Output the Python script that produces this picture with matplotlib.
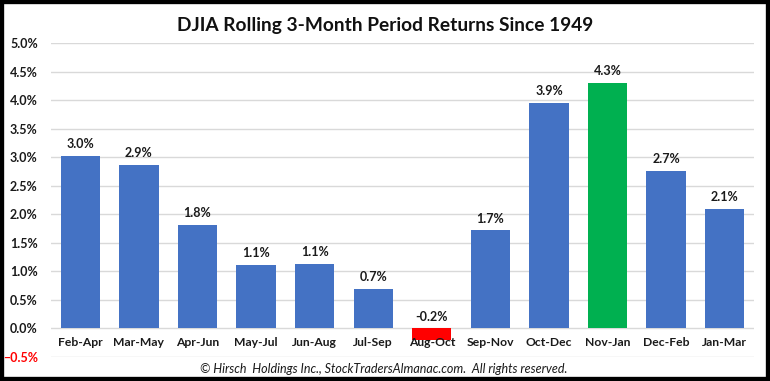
import numpy as np
import matplotlib
matplotlib.use('Agg')
import matplotlib.pyplot as plt
from matplotlib.patches import Rectangle

periods = ['Feb-Apr', 'Mar-May', 'Apr-Jun', 'May-Jul', 'Jun-Aug', 'Jul-Sep',
           'Aug-Oct', 'Sep-Nov', 'Oct-Dec', 'Nov-Jan', 'Dec-Feb', 'Jan-Mar']
returns = [3.02, 2.86, 1.81, 1.11, 1.13, 0.69, -0.20, 1.72, 3.95, 4.30, 2.76, 2.10]
labels = ['3.0%', '2.9%', '1.8%', '1.1%', '1.1%', '0.7%', '-0.2%', '1.7%',
          '3.9%', '4.3%', '2.7%', '2.1%']
yticks = [-0.5, 0.0, 0.5, 1.0, 1.5, 2.0, 2.5, 3.0, 3.5, 4.0, 4.5, 5.0]

plt.rcParams['font.family'] = ['Lato', 'DejaVu Sans']

blue = '#4472C4'
colors = [blue] * len(returns)
colors[returns.index(min(returns))] = '#FF0000'
colors[returns.index(max(returns))] = '#00B050'

fig = plt.figure(figsize=(7.7, 3.81), dpi=100)
ax = fig.add_axes([51 / 770, 1 - 357 / 381, 703 / 770, 314 / 381])

x = np.arange(len(periods))
ax.bar(x, returns, width=0.67, color=colors, zorder=2)

for xi, v, lab in zip(x, returns, labels):
    ax.text(xi, max(v, 0) + 0.1, lab, ha='center', va='bottom',
            fontsize=9, fontweight='bold', color='#1a1a1a')
    ax.text(xi, -0.24, periods[xi], ha='center', va='center',
            fontsize=8.7, fontweight='bold', color='#1a1a1a')

ax.set_xlim(-0.5, len(periods) - 0.5)
ax.set_ylim(-0.5, 5.0)
ax.set_yticks(yticks)
ax.set_yticklabels(['{:.1f}%'.format(t).replace('-', '\u2212') for t in yticks],
                   fontsize=9, fontweight='bold', color='#1a1a1a')
ax.get_yticklabels()[0].set_color('#FF0000')
ax.set_xticks([])
ax.tick_params(axis='y', length=0, pad=9.5)
ax.grid(axis='y', color='#d9d9d9', linewidth=1, zorder=0)
for s in ax.spines.values():
    s.set_visible(False)

fig.text(0.5, 1 - 25 / 381, 'DJIA Rolling 3-Month Period Returns Since 1949',
         ha='center', va='center', fontsize=13.8, fontweight='bold', color='#111111')
fig.text(384 / 770, 1 - 369 / 381,
         '\u00a9 Hirsch  Holdings Inc., StockTradersAlmanac.com.  All rights reserved.',
         ha='center', va='center', fontsize=9, style='italic', color='#1a1a1a')

fig.patches.append(Rectangle((0, 0), 1, 1, transform=fig.transFigure, fill=False,
                             edgecolor='black', linewidth=6))

fig.savefig('out.png', dpi=100)
